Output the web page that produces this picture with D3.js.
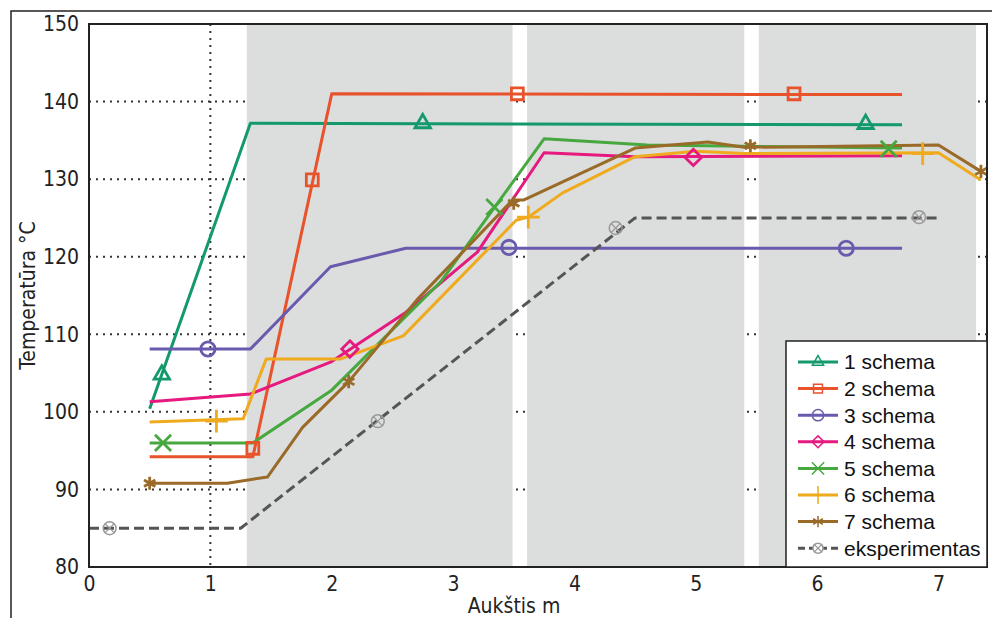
<!DOCTYPE html>
<html lang="en">
    <head>
        <meta charset="utf-8">
        <title>Temperatūra pagal aukštį</title>
        <script src="https://d3js.org/d3.v7.min.js"></script>
        <style type="text/css">
            body { margin: 0; background: white; }
            .axis text {
                font-family: "Liberation Sans Narrow", "Arial Narrow", "DejaVu Sans Condensed", sans-serif;
                font-size: 21px;
                fill: #222;
            }
            .legend text {
                font-family: "Liberation Sans", "Arial", sans-serif;
                font-size: 21px;
                fill: #111;
            }
        </style>
    </head>
    <body>
        <div id="chart"></div>
        <script type="text/javascript">

        //DATA - [aukštis m, temperatūra °C]
            const seriesNames = ["1 schema", "2 schema", "3 schema", "4 schema", "5 schema", "6 schema", "7 schema", "eksperimentas"];
            const xTicks = [0, 1, 2, 3, 4, 5, 6, 7];
            const yTicks = [80, 90, 100, 110, 120, 130, 140, 150];
            const grayBands = [[1.30, 3.49], [3.61, 5.40], [5.52, 7.31]];

            const s1 = [[0.5, 100.4], [1.33, 137.2], [6.7, 137.0]];
            const s1Marks = [[0.6, 104.8], [2.75, 137.2], [6.4, 137.1]];

            const s2 = [[0.5, 94.2], [1.35, 94.2], [2.0, 141.0], [6.7, 140.9]];
            const s2Marks = [[1.35, 95.3], [1.84, 129.9], [3.53, 141.0], [5.81, 141.0]];

            const s3 = [[0.5, 108.1], [1.33, 108.1], [1.99, 118.7], [2.61, 121.1], [6.7, 121.1]];
            const s3Marks = [[0.98, 108.1], [3.46, 121.2], [6.24, 121.1]];

            const s4 = [[0.5, 101.3], [1.33, 102.3], [1.99, 106.4], [2.6, 112.7], [3.2, 120.6], [3.75, 133.4], [4.5, 132.9], [6.7, 133.0]];
            const s4Marks = [[2.15, 108.1], [4.98, 132.8]];

            const s5 = [[0.5, 96.0], [1.35, 96.0], [2.0, 102.8], [2.9, 116.8], [3.75, 135.2], [4.6, 134.4], [6.7, 134.0]];
            const s5Marks = [[0.61, 96.0], [3.34, 126.4], [6.59, 133.9]];

            const s6 = [[0.5, 98.7], [1.27, 99.1], [1.46, 106.8], [2.07, 106.8], [2.59, 109.8], [3.52, 124.7], [3.62, 125.1],
                        [3.9, 128.2], [4.5, 132.9], [5.0, 133.6], [5.4, 133.3], [7.0, 133.4], [7.35, 129.9]];
            const s6Marks = [[1.05, 98.8], [3.62, 125.1], [6.87, 133.3]];

            const s7 = [[0.5, 90.8], [1.14, 90.8], [1.47, 91.6], [1.76, 98.0], [2.14, 103.9], [2.7, 114.4], [3.49, 127.3], [3.58, 127.3],
                        [4.5, 134.0], [5.1, 134.8], [5.4, 134.1], [7.0, 134.4], [7.35, 131.0]];
            const s7Marks = [[0.5, 90.8], [2.14, 103.9], [3.5, 126.9], [5.45, 134.3], [7.35, 131.0]];

            const expData = [[0, 85], [1.25, 85], [4.5, 125], [7.0, 125]];
            const expMarks = [[0.17, 85], [2.38, 98.8], [4.34, 123.7], [6.84, 125.1]];

        //CONSTANTS
            const w = 992;
            const h = 618;
            const plotLeft = 89, plotRight = 987, plotTop = 24, plotBottom = 567;

            const colors = ["#14996e", "#e8532b", "#6a5aad", "#e6197f", "#46a83f", "#f0aa1e", "#9a6a28", "#555555"];
            const symbols = [d3.symbolTriangle2, d3.symbolSquare2, d3.symbolCircle, d3.symbolDiamond2,
                             d3.symbolTimes, d3.symbolPlus, d3.symbolAsterisk, d3.symbolCircle];
            const lines = [s1, s2, s3, s4, s5, s6, s7, expData];
            const marks = [s1Marks, s2Marks, s3Marks, s4Marks, s5Marks, s6Marks, s7Marks, expMarks];

        //SCALES
            const xScale = d3.scaleLinear().domain([0, 7.4]).range([plotLeft, plotRight]);
            const yScale = d3.scaleLinear().domain([80, 150]).range([plotBottom, plotTop]);

            const svg = d3.select("#chart")
                .append("svg")
                .attr("width", w)
                .attr("height", h);

            //outer frame
            svg.append("rect")
                .attr("x", 11).attr("y", 11)
                .attr("width", w).attr("height", h)
                .attr("fill", "none")
                .attr("stroke", "#222")
                .attr("stroke-width", 1.5);

            //GRID - dotted
            svg.append("g")
                .selectAll("line")
                .data(yTicks.filter(d => d > 80 && d < 150))
                .enter()
                .append("line")
                .attr("x1", plotLeft).attr("x2", plotRight)
                .attr("y1", d => yScale(d)).attr("y2", d => yScale(d))
                .attr("stroke", "#333")
                .attr("stroke-width", 2)
                .attr("stroke-dasharray", "2,5");

            svg.append("g")
                .selectAll("line")
                .data(xTicks.filter(d => d > 0))
                .enter()
                .append("line")
                .attr("x1", d => xScale(d)).attr("x2", d => xScale(d))
                .attr("y1", plotTop).attr("y2", plotBottom)
                .attr("stroke", "#333")
                .attr("stroke-width", 2)
                .attr("stroke-dasharray", "2,5");

            //GRAY BANDS
            svg.append("g")
                .selectAll("rect")
                .data(grayBands)
                .enter()
                .append("rect")
                .attr("x", d => xScale(d[0]))
                .attr("y", plotTop)
                .attr("width", d => xScale(d[1]) - xScale(d[0]))
                .attr("height", plotBottom - plotTop)
                .attr("fill", "#dcdddd");

            //LINES
            const line = d3.line().x(d => xScale(d[0])).y(d => yScale(d[1]));

            lines.forEach((data, i) => {
                svg.append("path")
                    .datum(data)
                    .attr("d", line)
                    .attr("fill", "none")
                    .attr("stroke", colors[i])
                    .attr("stroke-width", 3)
                    .attr("stroke-linejoin", "round")
                    .attr("stroke-dasharray", i === 7 ? "10,5" : null);
            });

            //MARKERS
            const markerSize = [170, 180, 160, 170, 170, 170, 120, 130];
            marks.forEach((data, i) => {
                const g = svg.append("g");
                g.selectAll("path")
                    .data(data)
                    .enter()
                    .append("path")
                    .attr("transform", d => "translate(" + xScale(d[0]) + "," + yScale(d[1]) + ")")
                    .attr("d", d3.symbol().type(symbols[i]).size(markerSize[i]))
                    .attr("fill", "none")
                    .attr("stroke", i === 7 ? "#999" : colors[i])
                    .attr("stroke-width", i === 7 ? 1.5 : 2.8);
                if (i === 7) {
                    g.selectAll("path.x")
                        .data(data)
                        .enter()
                        .append("path")
                        .attr("class", "x")
                        .attr("transform", d => "translate(" + xScale(d[0]) + "," + yScale(d[1]) + ")")
                        .attr("d", d3.symbol().type(d3.symbolTimes).size(60))
                        .attr("fill", "none")
                        .attr("stroke", "#999")
                        .attr("stroke-width", 1.2);
                }
            });

            //PLOT BORDER
            svg.append("rect")
                .attr("x", plotLeft).attr("y", plotTop)
                .attr("width", plotRight - plotLeft).attr("height", plotBottom - plotTop)
                .attr("fill", "none")
                .attr("stroke", "#222")
                .attr("stroke-width", 2);

            //AXES
            const bottomAxis = d3.axisBottom(xScale).tickValues(xTicks).tickSize(0).tickPadding(9).tickFormat(d3.format("d"));
            const leftAxis = d3.axisLeft(yScale).tickValues(yTicks).tickSize(0).tickPadding(10).tickFormat(d3.format("d"));

            const gx = svg.append("g")
                .attr("class", "axis")
                .attr("transform", "translate(0," + plotBottom + ")")
                .call(bottomAxis);
            gx.select(".domain").remove();

            const gy = svg.append("g")
                .attr("class", "axis")
                .attr("transform", "translate(" + plotLeft + ",0)")
                .call(leftAxis);
            gy.select(".domain").remove();

            //AXIS TITLES
            const titleFont = "'Liberation Sans Narrow', 'Arial Narrow', 'DejaVu Sans Condensed', sans-serif";
            svg.append("text")
                .attr("x", 514).attr("y", 613)
                .attr("text-anchor", "middle")
                .style("font-family", titleFont)
                .style("font-size", "21px")
                .attr("fill", "#222")
                .text("Aukštis m");

            svg.append("text")
                .attr("transform", "translate(35," + ((plotTop + plotBottom) / 2) + ") rotate(-90)")
                .attr("text-anchor", "middle")
                .style("font-family", titleFont)
                .style("font-size", "21px")
                .attr("fill", "#222")
                .text("Temperatūra °C");

            //LEGEND
            const legend = svg.append("g").attr("class", "legend");
            legend.append("rect")
                .attr("x", 786).attr("y", 341)
                .attr("width", plotRight - 786).attr("height", plotBottom - 341)
                .attr("fill", "white")
                .attr("stroke", "#222")
                .attr("stroke-width", 1.5);

            const legendSize = [90, 100, 100, 90, 100, 110, 90, 80];
            seriesNames.forEach((name, i) => {
                const y = 362 + i * 26.6;
                legend.append("line")
                    .attr("x1", 798).attr("x2", 838)
                    .attr("y1", y).attr("y2", y)
                    .attr("stroke", colors[i])
                    .attr("stroke-width", 3)
                    .attr("stroke-dasharray", i === 7 ? "7,4" : null);
                legend.append("path")
                    .attr("transform", "translate(818," + y + ")")
                    .attr("d", d3.symbol().type(symbols[i]).size(legendSize[i]))
                    .attr("fill", i === 7 ? "white" : "none")
                    .attr("stroke", i === 7 ? "#999" : colors[i])
                    .attr("stroke-width", 1.5);
                if (i === 7) {
                    legend.append("path")
                        .attr("transform", "translate(818," + y + ")")
                        .attr("d", d3.symbol().type(d3.symbolTimes).size(45))
                        .attr("fill", "none")
                        .attr("stroke", "#999")
                        .attr("stroke-width", 1.2);
                }
                legend.append("text")
                    .attr("x", 844).attr("y", y)
                    .attr("dy", "0.35em")
                    .text(name);
            });
        </script>
    </body>
</html>
